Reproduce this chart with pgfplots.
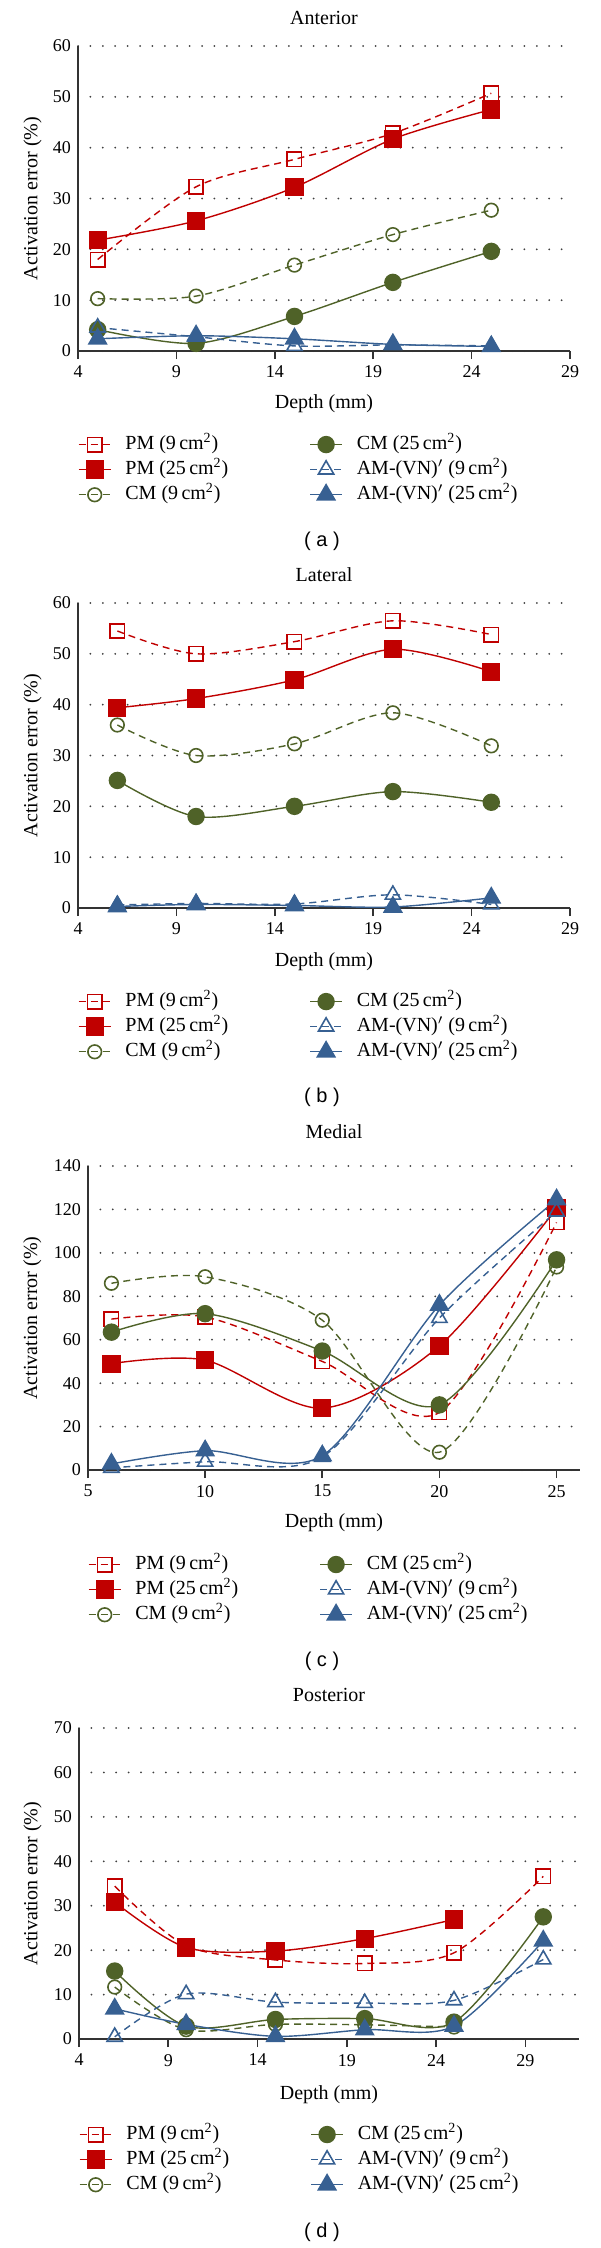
\documentclass[border=0pt]{standalone}
\usepackage{pgfplots}
\pgfplotsset{compat=1.18}
\usepackage{fontspec}
\setmainfont{Liberation Serif}
\newfontfamily\sansf{Liberation Sans}
\definecolor{cred}{RGB}{192,0,0}
\definecolor{cgreen}{RGB}{79,98,40}
\definecolor{cblue}{RGB}{55,96,146}
\newcommand{\fnt}{\fontsize{10}{12}\selectfont}
\newcommand{\tfnt}{\fontsize{9}{10}\selectfont}
\newcommand{\cmsq}{\,cm\textsuperscript{2})}
\pgfplotsset{
  base/.style={
    scale only axis,
    axis lines*=left,
    axis line style={line width=1pt, black!80},
    xtick align=outside,
    major tick length=4pt,
    ytick style={draw=none},
    xtick style={line width=0.8pt, black!80},
    ymajorgrids,
    grid style={line width=1pt, line cap=round, dash pattern=on 0pt off 6.2pt, black!75},
    tick label style={font=\tfnt},
    label style={font=\fnt},
    title style={font=\fnt},
    /pgf/number format/assume math mode=true,
    clip=false,
    legend columns=2,
    legend cell align=left,
    legend style={draw=none, fill=none, inner sep=0pt, outer sep=0pt, row sep=2.5pt, column sep=5pt,
      font=\fnt, anchor=north west,
      nodes={inner xsep=2pt, inner ysep=0pt, text height=7.5pt, text depth=2.5pt},
      /tikz/every even column/.append style={column sep=38.5pt}},
    legend image code/.code={\draw[mark repeat=2,mark phase=2,##1] plot coordinates {(0pt,0pt) (8pt,0pt) (16pt,0pt)};},
    xlabel={Depth (mm)},
    ylabel={Activation error (\%)},
  },
  pm9/.style={cred, line width=0.7pt, dash pattern=on 3.5pt off 2.5pt, smooth, mark=square, mark size=3.6pt, mark options={solid, line width=0.8pt}},
  pm25/.style={cred, line width=0.7pt, smooth, mark=square*, mark size=4.2pt, mark options={solid, fill=cred}},
  cm9/.style={cgreen, line width=0.7pt, dash pattern=on 3.5pt off 2.5pt, smooth, mark=o, mark size=3.4pt, mark options={solid, line width=0.8pt}},
  cm25/.style={cgreen, line width=0.7pt, smooth, mark=*, mark size=4pt, mark options={solid, fill=cgreen}},
  am9/.style={cblue, line width=0.7pt, dash pattern=on 3.5pt off 2.5pt, smooth, mark=triangle, mark size=4.4pt, mark options={solid, line width=0.8pt}},
  am25/.style={cblue, line width=0.7pt, smooth, mark=triangle*, mark size=5.1pt, mark options={solid, fill=cblue}},
}
\begin{document}
\begin{tikzpicture}[font=\fnt]
\useasboundingbox (0,0) rectangle (300pt,-1124pt);
% ---------------- (a) Anterior
\begin{axis}[base,
  at={(39pt,-175.5pt)}, anchor=south west, width=246pt, height=152.5pt,
  xmin=4, xmax=29, ymin=0, ymax=60, xtick={4,9,...,29}, ytick={0,10,...,60},
  title={Anterior}, title style={at={(axis description cs:0.5,1.052)}, anchor=center},
  xlabel style={at={(axis description cs:0.5,-0.174)}, anchor=center},
  ylabel style={at={(axis description cs:-0.0925,0.5)}, anchor=center},
  legend style={at={(axis description cs:0,-0.274)}},
]
\addplot[pm9] coordinates {(5,18.0) (10,32.3) (15,37.7) (20,42.8) (25,50.7)};
\addlegendentry{PM (9\cmsq}
\addplot[cm25] coordinates {(5,4.2) (10,1.5) (15,6.8) (20,13.5) (25,19.6)};
\addlegendentry{CM (25\cmsq}
\addplot[pm25] coordinates {(5,21.8) (10,25.6) (15,32.2) (20,41.7) (25,47.5)};
\addlegendentry{PM (25\cmsq}
\addplot[am9] coordinates {(5,4.6) (10,2.8) (15,1.0) (20,1.2) (25,1.0)};
\addlegendentry{AM-(VN)$'$ (9\cmsq}
\addplot[cm9] coordinates {(5,10.3) (10,10.8) (15,16.9) (20,22.9) (25,27.7)};
\addlegendentry{CM (9\cmsq}
\addplot[am25] coordinates {(5,2.4) (10,3.0) (15,2.4) (20,1.3) (25,0.9)};
\addlegendentry{AM-(VN)$'$ (25\cmsq}
\end{axis}
% ---------------- (b) Lateral
\begin{axis}[base,
  at={(39pt,-454pt)}, anchor=south west, width=246pt, height=152.5pt,
  xmin=4, xmax=29, ymin=0, ymax=60, xtick={4,9,...,29}, ytick={0,10,...,60},
  title={Lateral}, title style={at={(axis description cs:0.5,1.052)}, anchor=center},
  xlabel style={at={(axis description cs:0.5,-0.177)}, anchor=center},
  ylabel style={at={(axis description cs:-0.0925,0.5)}, anchor=center},
  legend style={at={(axis description cs:0,-0.274)}},
]
\addplot[pm9] coordinates {(6,54.5) (10,50.0) (15,52.4) (20,56.5) (25,53.8)};
\addlegendentry{PM (9\cmsq}
\addplot[cm25] coordinates {(6,25.1) (10,18.0) (15,20.0) (20,22.9) (25,20.8)};
\addlegendentry{CM (25\cmsq}
\addplot[pm25] coordinates {(6,39.4) (10,41.2) (15,44.9) (20,50.9) (25,46.5)};
\addlegendentry{PM (25\cmsq}
\addplot[am9] coordinates {(6,0.6) (10,0.9) (15,0.8) (20,2.6) (25,0.7)};
\addlegendentry{AM-(VN)$'$ (9\cmsq}
\addplot[cm9] coordinates {(6,36.0) (10,30.0) (15,32.3) (20,38.4) (25,31.9)};
\addlegendentry{CM (9\cmsq}
\addplot[am25] coordinates {(6,0.3) (10,0.7) (15,0.5) (20,0.2) (25,2.0)};
\addlegendentry{AM-(VN)$'$ (25\cmsq}
\end{axis}
% ---------------- (c) Medial
\begin{axis}[base,
  at={(44pt,-735pt)}, anchor=south west, width=246pt, height=152pt,
  xmin=5, xmax=26, ymin=0, ymax=140, xtick={5,10,...,25}, ytick={0,20,...,140},
  title={Medial}, title style={at={(axis description cs:0.5,1.072)}, anchor=center},
  xlabel style={at={(axis description cs:0.5,-0.174)}, anchor=center},
  ylabel style={at={(axis description cs:-0.113,0.5)}, anchor=center},
  legend style={at={(axis description cs:0,-0.278)}},
]
\addplot[pm9] coordinates {(6,69.5) (10,70.5) (15,50) (20,26.5) (25,114)};
\addlegendentry{PM (9\cmsq}
\addplot[cm25] coordinates {(6,63.5) (10,72) (15,54.8) (20,30) (25,96.8)};
\addlegendentry{CM (25\cmsq}
\addplot[pm25] coordinates {(6,49) (10,50.6) (15,28.5) (20,57.2) (25,120.5)};
\addlegendentry{PM (25\cmsq}
\addplot[am9] coordinates {(6,1) (10,3.8) (15,6) (20,70) (25,119)};
\addlegendentry{AM-(VN)$'$ (9\cmsq}
\addplot[cm9] coordinates {(6,86) (10,89) (15,69) (20,8.2) (25,93.5)};
\addlegendentry{CM (9\cmsq}
\addplot[am25] coordinates {(6,2.8) (10,8.9) (15,6.6) (20,76) (25,124.5)};
\addlegendentry{AM-(VN)$'$ (25\cmsq}
\end{axis}
% ---------------- (d) Posterior
\begin{axis}[base,
  at={(39.5pt,-1019.5pt)}, anchor=south west, width=250pt, height=155.5pt,
  xmin=4, xmax=32, ymin=0, ymax=70, xtick={4,9,...,29}, ytick={0,10,...,70},
  title={Posterior}, title style={at={(axis description cs:0.5,1.068)}, anchor=center},
  xlabel style={at={(axis description cs:0.5,-0.18)}, anchor=center},
  ylabel style={at={(axis description cs:-0.093,0.5)}, anchor=center},
  legend style={at={(axis description cs:0,-0.275)}},
]
\addplot[pm9] coordinates {(6,34.4) (10,21) (15,17.8) (20,17) (25,19.4) (30,36.6)};
\addlegendentry{PM (9\cmsq}
\addplot[cm25] coordinates {(6,15.3) (10,2.9) (15,4.4) (20,4.6) (25,3.8) (30,27.5)};
\addlegendentry{CM (25\cmsq}
\addplot[pm25] coordinates {(6,30.8) (10,20.6) (15,19.8) (20,22.6) (25,26.9)};
\addlegendentry{PM (25\cmsq}
\addplot[am9] coordinates {(6,0.5) (10,10.1) (15,8.3) (20,8.1) (25,8.7) (30,17.9)};
\addlegendentry{AM-(VN)$'$ (9\cmsq}
\addplot[cm9] coordinates {(6,11.7) (10,2.1) (15,3.3) (20,3.2) (25,2.7)};
\addlegendentry{CM (9\cmsq}
\addplot[am25] coordinates {(6,6.8) (10,3.3) (15,0.6) (20,2.1) (25,2.9) (30,22.1)};
\addlegendentry{AM-(VN)$'$ (25\cmsq}
\end{axis}
\node[font=\sansf\fontsize{10}{12}\selectfont] at (161pt,-270.5pt) {(\ a\ )};
\node[font=\sansf\fontsize{10}{12}\selectfont] at (161pt,-548.5pt) {(\ b\ )};
\node[font=\sansf\fontsize{10}{12}\selectfont] at (161pt,-830.5pt) {(\ c\ )};
\node[font=\sansf\fontsize{10}{12}\selectfont] at (161pt,-1116pt) {(\ d\ )};
\end{tikzpicture}
\end{document}
